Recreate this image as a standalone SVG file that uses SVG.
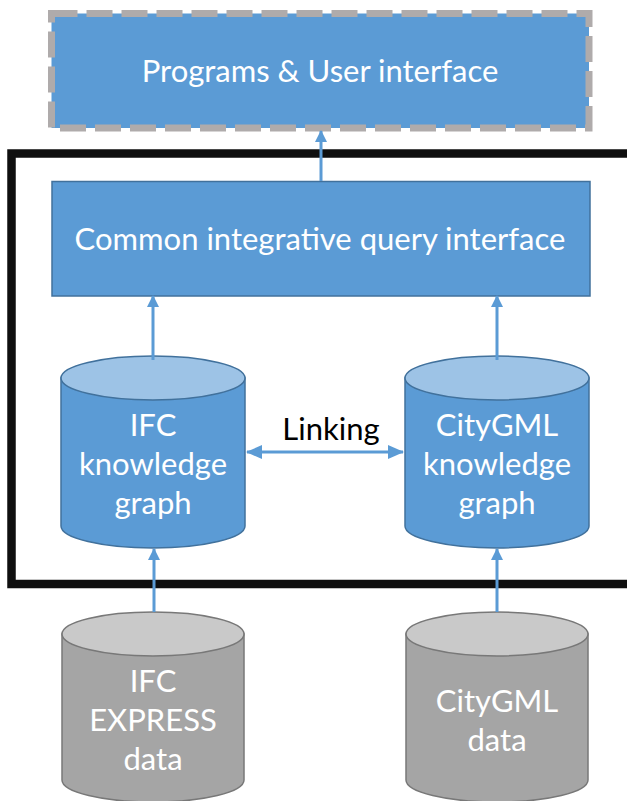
<svg xmlns="http://www.w3.org/2000/svg" width="627" height="801" viewBox="0 0 627 801">
  <style>
    .lbl { font-family: Lato, "Liberation Sans", sans-serif; font-size: 31px; fill: #ffffff; text-anchor: middle; }
    .dark { fill: #000000; }
    .blueBody { fill: #5B9BD5; stroke: #41719C; stroke-width: 1.5; }
    .blueTop { fill: #9DC3E6; stroke: #41719C; stroke-width: 1.5; }
    .grayBody { fill: #A5A5A5; stroke: #787878; stroke-width: 1.5; }
    .grayTop { fill: #C9C9C9; stroke: #787878; stroke-width: 1.5; }
    .conn { stroke: #5B9BD5; stroke-width: 3; fill: none; }
  </style>
  <defs>
    <marker id="ah" markerUnits="userSpaceOnUse" markerWidth="12" markerHeight="12" viewBox="0 0 12 12" refX="11" refY="6" orient="auto">
      <path d="M0,0 L12,6 L0,12 Z" fill="#5B9BD5"/>
    </marker>
    <marker id="ahL" markerUnits="userSpaceOnUse" markerWidth="16" markerHeight="14" viewBox="0 0 16 14" refX="15" refY="7" orient="auto-start-reverse">
      <path d="M0,0 L16,7 L0,14 Z" fill="#5B9BD5"/>
    </marker>
  </defs>
  <rect width="627" height="801" fill="#ffffff"/>

  <g id="frame">
    <rect x="11.5" y="153.5" width="700" height="430.5" fill="none" stroke="#0F0F0F" stroke-width="8.5"/>
  </g>

  <g id="programs">
    <rect x="51.5" y="13.5" width="537.5" height="114.5" fill="#5B9BD5" stroke="#AFABAB" stroke-width="7" stroke-dasharray="26 9"/>
    <text class="lbl" x="320" y="82">Programs &amp; User interface</text>
  </g>

  <g id="common">
    <rect x="52" y="181.5" width="538" height="114.5" fill="#5B9BD5" stroke="#41719C" stroke-width="1.5"/>
    <text class="lbl" x="320" y="250">Common integrative query interface</text>
  </g>

  <g id="ifc-kg">
    <path class="blueBody" d="M61,378 L61,526 A92,22 0 0 0 245,526 L245,378 Z"/>
    <ellipse class="blueTop" cx="153" cy="378" rx="92" ry="22"/>
    <text class="lbl" x="153" y="436">IFC</text>
    <text class="lbl" x="153" y="475">knowledge</text>
    <text class="lbl" x="153" y="514">graph</text>
  </g>

  <g id="citygml-kg">
    <path class="blueBody" d="M405,378 L405,526 A92,22 0 0 0 589,526 L589,378 Z"/>
    <ellipse class="blueTop" cx="497" cy="378" rx="92" ry="22"/>
    <text class="lbl" x="497" y="436">CityGML</text>
    <text class="lbl" x="497" y="475">knowledge</text>
    <text class="lbl" x="497" y="514">graph</text>
  </g>

  <g id="ifc-data">
    <path class="grayBody" d="M62,634 L62,780 A91,22 0 0 0 244,780 L244,634 Z"/>
    <ellipse class="grayTop" cx="153" cy="634" rx="91" ry="22"/>
    <text class="lbl" x="153" y="692">IFC</text>
    <text class="lbl" x="153" y="731">EXPRESS</text>
    <text class="lbl" x="153" y="770">data</text>
  </g>

  <g id="citygml-data">
    <path class="grayBody" d="M406,634 L406,780 A91,22 0 0 0 588,780 L588,634 Z"/>
    <ellipse class="grayTop" cx="497" cy="634" rx="91" ry="22"/>
    <text class="lbl" x="497" y="712">CityGML</text>
    <text class="lbl" x="497" y="751">data</text>
  </g>

  <g id="connectors">
    <line class="conn" x1="321" y1="181" x2="321" y2="131" marker-end="url(#ah)"/>
    <line class="conn" x1="153" y1="360" x2="153" y2="296" marker-end="url(#ah)"/>
    <line class="conn" x1="497" y1="360" x2="497" y2="296" marker-end="url(#ah)"/>
    <line class="conn" x1="154" y1="612" x2="154" y2="549" marker-end="url(#ah)"/>
    <line class="conn" x1="497" y1="612" x2="497" y2="549" marker-end="url(#ah)"/>
    <line class="conn" x1="247" y1="452" x2="403" y2="452" marker-start="url(#ahL)" marker-end="url(#ahL)"/>
    <text class="lbl dark" x="331" y="440">Linking</text>
  </g>
</svg>
